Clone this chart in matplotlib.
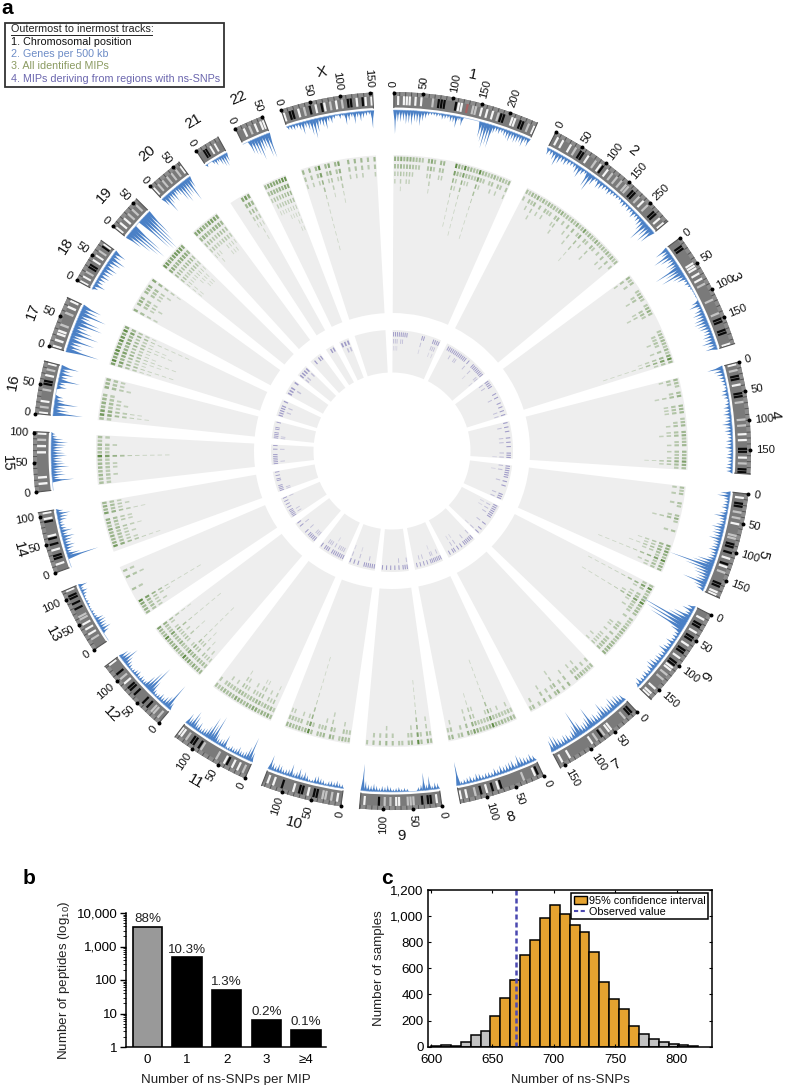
import numpy as np
import matplotlib
matplotlib.use("Agg")
import matplotlib.pyplot as plt
from matplotlib.lines import Line2D
from matplotlib.patches import Patch, Rectangle

plt.rcParams['font.family'] = ['Liberation Sans', 'DejaVu Sans']
plt.rcParams['mathtext.default'] = 'regular'

W, H = 788, 1085

# chromosome layout (degrees clockwise from the top)
chrom_names = ['1', '2', '3', '4', '5', '6', '7', '8', '9', '10', '11', '12', '13', '14',
               '15', '16', '17', '18', '19', '20', '21', '22', 'X']
chrom_len = [249, 243, 198, 191, 181, 171, 159, 146, 141, 135, 135, 133, 115, 107,
             102, 90, 81, 78, 59, 63, 48, 51, 155]
chrom_start = [0.3, 27.2, 53.5, 75.6, 96.9, 117.2, 136.8, 155.0, 172.0, 188.2, 204.2, 220.6,
               236.3, 250.1, 263.4, 276.0, 287.0, 298.4, 308.8, 317.6, 326.9, 334.1, 342.0]
chrom_end = [23.9, 50.2, 72.6, 93.7, 114.2, 133.8, 152.0, 169.0, 185.2, 201.3, 217.2, 233.1,
             246.9, 260.1, 273.1, 284.5, 295.3, 305.9, 314.6, 323.6, 331.0, 338.9, 356.9]
tick_mb = [[0, 50, 100, 150, 200], [0, 50, 100, 150, 200], [0, 50, 100, 150], [0, 50, 100, 150],
           [0, 50, 100, 150], [0, 50, 100, 150], [0, 50, 100, 150], [0, 50, 100], [0, 50, 100],
           [0, 50, 100], [0, 50, 100], [0, 50, 100], [0, 50, 100], [0, 50, 100], [0, 50, 100],
           [0, 50], [0, 50], [0, 50], [0, 50], [0, 50], [0], [0, 50], [0, 50, 100, 150]]
tick_text = [['0', '50', '100', '150', '200'], ['0', '50', '100', '150', '250']] + [None] * 21

# cytobands, one character per equal slice of the chromosome
bands = [
    ".w.www.w.w...l.kkk...kww.r.ll.w.w.w.lkk..ww.kk.l.w",
    ".w.w..w.l.kk.w..l.wk.w.l.l.l.ll.kk.l.w.l..kk.w.w",
    "..kk.....www.w.w.l.....l....l.kk..kk...w",
    "w.l.kk.w..kk.l.....l.l..w.w..kk.w.l.kk",
    ".w.kk.l.l.w...ll.kk.k.w.kw.l...kk.ww",
    "..w.kk.w.kk.w.kk.w.kkww.l.l...w.ww",
    ".kk.l.....ww.lk.l.w........w..w.",
    ".kw...l.......kw.k.w.k.l..w.w",
    ".w.kk.k..lll..ww.l.l.k....w.",
    ".w.l.ll.kk.w.kk.w...k..w.w.",
    ".l.w.w.kw..l.....lk.kk.l.ww",
    ".l.ll.k.k...k.kk.w.l.k...w",
    "...l.w.w.w.ll..k.k.kk.w",
    "..w.kk.w.k.kw....kw.w",
    "..w.w.......w.w.l.w",
    "w.l.w...l.kk.w.l.w",
    "w.w.ww.l...l.w.w",
    "w.w.l.kk.w.w.l.kw",
    "w.w.w.l.l.l.",
    "w.l.l.l.l.l.w",
    "..kk.w.w..",
    "..w.l.w.ww",
    "w.kk.w.l.k.w.kw.l.w.l.kk.w.kw.w",
]
band_colors = {'w': '#f4f4f4', 'l': '#c4c4c4', 'k': '#0a0a0a', 'r': '#a86060', 's': '#a0a0a0'}

# genes per 500 kb, spike heights along each chromosome
genes = [
    [24, 12, 12, 11, 14, 13, 15, 11, 12, 15, 10, 7, 4, 3, 3, 4, 3, 6, 5, 4, 7, 7, 12, 4, 9, 0, 0, 0, 0, 0,
     0, 16, 20, 26, 22, 24, 8, 6, 7, 5, 7, 9, 11, 8, 10, 9, 8, 11, 6, 9],
    [7, 6, 9, 14, 10, 7, 8, 6, 5, 5, 9, 12, 7, 4, 16, 19, 10, 4, 9, 8, 6, 5, 7, 5, 4, 4, 3, 5, 6, 4, 6, 5,
     8, 5, 7, 9, 12, 22, 14, 18, 16],
    [14, 9, 20, 14, 8, 12, 10, 28, 18, 24, 13, 10, 4, 5, 3, 2, 1, 1, 1, 0, 8, 12, 5, 9, 12, 10, 13, 14, 12,
     11, 8, 9, 11, 10, 14, 9, 12],
    [16, 10, 8, 6, 5, 4, 3, 6, 7, 5, 3, 5, 7, 6, 8, 6, 7, 10, 7, 8, 6, 5, 7, 6, 8, 5, 6, 7, 5, 6, 7, 6],
    [10, 13, 6, 5, 6, 7, 4, 8, 13, 7, 6, 9, 13, 10, 11, 9, 13, 8, 7, 8, 10, 7, 7, 9, 18, 22, 46, 28, 18, 16,
     12, 13, 25, 12, 8],
    [8, 12, 7, 18, 22, 52, 44, 38, 12, 6, 6, 5, 9, 6, 8, 11, 6, 7, 8, 7, 10, 11, 8, 5, 7, 6, 5, 8, 5],
    [8, 10, 12, 11, 14, 10, 9, 12, 17, 10, 8, 11, 10, 22, 13, 10, 9, 15, 28, 14, 10, 6, 9, 10, 8, 10, 14,
     16, 12],
    [6, 9, 7, 8, 10, 13, 6, 10, 9, 8, 7, 9, 6, 8, 5, 6, 6, 5, 7, 8, 5, 7, 6, 5, 4, 24],
    [6, 7, 4, 14, 6, 18, 6, 4, 0, 0, 0, 3, 4, 3, 5, 4, 3, 5, 7, 5, 6, 4, 6, 8, 6, 7, 10, 27],
    [4, 5, 7, 5, 6, 5, 3, 5, 6, 8, 7, 3, 3, 6, 9, 6, 11, 7, 5, 13, 7, 6, 5, 8, 9, 6, 8, 15],
    [10, 25, 14, 8, 6, 6, 9, 6, 5, 6, 4, 3, 14, 8, 7, 6, 11, 28, 18, 24, 13, 8, 7, 5, 10, 7, 14, 18, 9, 12],
    [8, 28, 12, 9, 6, 8, 5, 4, 6, 14, 30, 22, 14, 5, 5, 6, 4, 7, 6, 4, 3, 5, 7, 10, 18, 12, 10],
    [0, 0, 0, 7, 11, 8, 9, 10, 9, 4, 3, 3, 2, 2, 3, 3, 2, 3, 5, 7, 4, 9],
    [0, 0, 0, 32, 14, 6, 9, 11, 8, 10, 13, 7, 12, 7, 6, 5, 9, 11, 14, 7],
    [0, 0, 0, 22, 8, 14, 12, 11, 18, 14, 12, 11, 16, 14, 11, 13, 15, 17, 12, 6, 4],
    [30, 16, 12, 24, 10, 8, 0, 0, 10, 8, 22, 9, 14, 10, 18],
    [34, 16, 14, 26, 12, 28, 20, 14, 28, 24, 13, 28, 18, 20],
    [6, 12, 8, 9, 11, 10, 12, 14, 9, 14, 17, 10, 13],
    [18, 28, 36, 42, 34, 0, 0, 40, 44, 46, 38, 30],
    [10, 20, 12, 10, 13, 8, 10, 18, 22, 18, 17, 26, 12],
    [3, 0, 0, 4, 7, 5, 9, 12, 13, 9],
    [0, 0, 14, 16, 18, 24, 16, 14, 24, 26],
    [4, 5, 6, 5, 8, 13, 7, 10, 16, 20, 14, 8, 10, 13, 6, 8, 4, 2, 5, 3, 12, 8, 5, 12, 6, 10, 7, 5, 4, 18],
]

# stacked MIP rows per slice of each chromosome (base 36 digits)
mip_depth = [
    "43534432210352033000942a3322a3212313213",
    "2132413132213412131412613214212131312",
    "3120012310134200000122321315a3",
    "3210240033301230341230323642",
    "212002100241002000054642a243",
    "2a3134a3232021123313133434",
    "212132300302042020301021",
    "2322323a32224614021032",
    "240290320110203020201",
    "2231024032202b3132233",
    "25342553423452323212",
    "3435264a3236343a3236",
    "3435a00020003020",
    "074343524406343",
    "2232332a22312",
    "27634320433",
    "6957965875a5",
    "40343033405",
    "775567775",
    "565446665",
    "000575",
    "35556688",
    "30303c03503600303030203",
]
inner_depth = [
    "3331221100000003100003231",
    "0111211221111020013111123",
    "2121000102001010202",
    "10201002020100213",
    "2131110201000212",
    "1313121000200103",
    "2111210103031010",
    "1211231010202010",
    "2110201010101",
    "1112110030103",
    "1222213022201",
    "2221102000201",
    "1212101010102",
    "221100110101",
    "12111100201",
    "2211011001",
    "1121201",
    "11201",
    "2212",
    "01011",
    "011",
    "122",
    "0000000000000",
]

# panel b
b_labels = ['0', '1', '2', '3', '≥4']
b_values = [3880, 480, 51, 6.4, 3.2]
b_percent = ['88%', '10.3%', '1.3%', '0.2%', '0.1%']

# panel c
c_left = [600.0 + 8.06 * i for i in range(27)]
c_counts = [3, 12, 8, 35, 88, 122, 236, 372, 510, 703, 820, 982, 1082, 1020, 930, 875, 727, 492,
            362, 288, 155, 98, 58, 33, 20, 10, 4]
observed = 669


def theta_at(c, frac):
    return np.radians(chrom_start[c] + frac * (chrom_end[c] - chrom_start[c]))


def band_r(ax, t1, t2, r1, r2, **kw):
    ax.bar((t1 + t2) / 2, r2 - r1, width=t2 - t1, bottom=r1, linewidth=0, align='center', **kw)


fig = plt.figure(figsize=(W / 100, H / 100), dpi=100)

# panel a, one polar axes around the picture's centre
cx, cy, rmax = 392, 451, 410
ax = fig.add_axes([(cx - rmax) / W, 1 - (cy + rmax) / H, 2 * rmax / W, 2 * rmax / H], projection='polar')
ax.set_theta_zero_location('N')
ax.set_theta_direction(-1)
ax.set_rlim(0, rmax)
ax.set_axis_off()

green = '#4f8032'
purple = '#5f57a8'
for c in range(23):
    t1, t2 = theta_at(c, 0), theta_at(c, 1)
    band_r(ax, t1, t2, 138, 296, color='#eeeeee')
    band_r(ax, t1, t2, 78.5, 121, color='#eeeeee')

    # ideogram
    band_r(ax, t1, t2, 343.5, 359, color='#7a7a7a')
    band_r(ax, t1, t2, 355, 359, color='#8c8c8c')
    s = bands[c]
    for i, ch in enumerate(s):
        if ch in band_colors:
            a, b = theta_at(c, (i + 0.12) / len(s)), theta_at(c, (i + 0.88) / len(s))
            band_r(ax, a, b, 346, 355, color=band_colors[ch])
    band_t = theta_at(c, np.arange(0, chrom_len[c] + 1, 10) / chrom_len[c])
    ax.vlines(band_t, 355, 359, color='#555555', lw=0.7)
    ax.plot(np.full(2, t1), [343.5, 359], color='#555555', lw=0.8)
    ax.plot(np.full(2, t2), [343.5, 359], color='#555555', lw=0.8)

    # gene track, concave spikes pointing at the centre
    g = genes[c]
    w = (t2 - t1) / len(g)
    for i, h in enumerate(g):
        if h > 0:
            t = t1 + (i + 0.5) * w
            ax.fill([t - 0.7 * w, t - 0.2 * w, t, t + 0.2 * w, t + 0.7 * w],
                    [341, 341 - 0.45 * h, 341 - h, 341 - 0.45 * h, 341], color='#4a80c6', lw=0)
    ax.plot(np.linspace(t1, t2, 20), np.full(20, 341), color='#8fb2df', lw=0.4)

    # MIPs
    s = mip_depth[c]
    w = (t2 - t1) / len(s)
    for i, ch in enumerate(s):
        d = int(ch, 36)
        for k in range(d):
            a = min(1, 0.3 + 0.08 * d) * max(0.22, 0.9 * 0.78 ** k)
            ww = w * (0.65 if k < 2 else 0.5 if k < 4 else 0.3)
            t = t1 + (i + 0.5) * w
            ax.bar(t, 4.5, width=ww, bottom=290 - 7.5 * k, color=green, alpha=a, linewidth=0)
    s = inner_depth[c]
    w = (t2 - t1) / len(s)
    for i, ch in enumerate(s):
        d = int(ch, 36)
        for k in range(d):
            t = t1 + (i + 0.5) * w
            ax.bar(t, 4.5, width=w * 0.5, bottom=114.5 - 7 * k, color=purple,
                   alpha=0.55 * 0.55 ** k, linewidth=0)

    # tick dots and labels
    ticks = np.array(tick_mb[c])
    t = theta_at(c, ticks / chrom_len[c])
    ax.scatter(t, np.full(len(t), 358.5), s=8, color='black', zorder=5, linewidths=0, clip_on=False)
    names = tick_text[c] if tick_text[c] else [str(v) for v in tick_mb[c]]
    for th, label in zip(t, names):
        deg = np.degrees(th)
        right = deg < 180
        ax.text(th, 364, label, fontsize=8.2, color='#111111', va='center', ha='left' if right else 'right',
                rotation=(90 - deg) if right else (270 - deg), rotation_mode='anchor')

    # chromosome name
    mid = np.degrees((t1 + t2) / 2)
    if mid <= 130:
        rot = -mid
    elif mid <= 270:
        rot = 180 - mid
    else:
        rot = 360 - mid
    ax.text(np.radians(mid), 385, chrom_names[c], fontsize=10.8, color='#111111', ha='center', va='center',
            rotation=rot, rotation_mode='anchor')

# overlay in picture pixels for the key and the panel letters
over = fig.add_axes([0, 0, 1, 1])
over.set_xlim(0, W)
over.set_ylim(H, 0)
over.set_axis_off()
over.patch.set_alpha(0)
over.add_patch(Rectangle((5.5, 23), 219, 63.5, fill=False, edgecolor='#333333', lw=1.3))
key_lines = ['Outermost to inermost tracks:', '1. Chromosomal position', '2. Genes per 500 kb',
             '3. All identified MIPs', '4. MIPs deriving from regions with ns-SNPs']
key_colors = ['#222222', '#111111', '#6d8cc6', '#8b9b62', '#6b66ae']
for i, (line, col) in enumerate(zip(key_lines, key_colors)):
    over.text(11, 29.5 + 12.3 * i, line, fontsize=7.75, color=col, va='center', ha='left')
over.plot([11, 152], [35, 35], color='#222222', lw=0.7)
over.text(1, 9, 'a', fontsize=15, fontweight='bold', va='center', ha='left')
over.text(23, 878, 'b', fontsize=15, fontweight='bold', va='center', ha='left')
over.text(381, 878, 'c', fontsize=15, fontweight='bold', va='center', ha='left')

# panel b
axb = fig.add_axes([126 / W, 1 - 1047 / H, 200 / W, 134 / H])
axb.bar(range(5), b_values, width=0.74, color=['#999999', 'black', 'black', 'black', 'black'],
        edgecolor='black', linewidth=1.2)
axb.set_yscale('log')
axb.set_ylim(1, 10000)
axb.set_xlim(-0.54, 4.5)
axb.set_xticks(range(5))
axb.set_xticklabels(b_labels)
axb.set_yticks([1, 10, 100, 1000, 10000])
axb.set_yticklabels(['1', '10', '100', '1,000', '10,000'])
axb.tick_params(axis='x', length=0, labelsize=9.6, pad=5)
axb.tick_params(axis='y', which='major', length=4, width=1, labelsize=9.6, direction='out', pad=2)
axb.tick_params(axis='y', which='minor', length=2, width=0.6, direction='out')
for name in ['top', 'right']:
    axb.spines[name].set_visible(False)
for name in ['left', 'bottom']:
    axb.spines[name].set_linewidth(1.1)
for i, (v, p) in enumerate(zip(b_values, b_percent)):
    axb.text(i, v * 1.12, p, ha='center', va='bottom', fontsize=9.6, color='#222222')
axb.set_xlabel('Number of ns-SNPs per MIP', fontsize=9.6, labelpad=6, color='#222222')
axb.set_ylabel('Number of peptides (log$_{10}$)', fontsize=9.6, labelpad=3.5, color='#222222')

# panel c
axc = fig.add_axes([427.7 / W, 1 - 1046.7 / H, 284.6 / W, 156.7 / H])
c_colors = ['#e5a330' if 648 <= x < 769 else '#c2c2c2' for x in c_left]
axc.bar(c_left, c_counts, width=8.06, align='edge', color=c_colors, edgecolor='black', linewidth=1.1)
axc.axvline(observed, color='#4a48b0', lw=1.8, ls=(0, (2, 1.2)))
axc.set_xlim(597.3, 829)
axc.set_ylim(0, 1200)
axc.set_xticks([600, 650, 700, 750, 800])
axc.set_yticks([0, 200, 400, 600, 800, 1000, 1200])
axc.set_yticklabels(['0', '200', '400', '600', '800', '1,000', '1,200'])
axc.tick_params(axis='both', direction='in', length=2.5, width=0.8, labelsize=9.6, top=True, right=True)
axc.tick_params(axis='x', pad=5)
axc.tick_params(axis='y', pad=3)
for sp in axc.spines.values():
    sp.set_linewidth(1.1)
axc.set_xlabel('Number of ns-SNPs', fontsize=9.6, labelpad=6, color='#222222')
axc.set_ylabel('Number of samples', fontsize=9.6, labelpad=4, color='#222222')
leg = axc.legend(handles=[Patch(facecolor='#e5a330', edgecolor='black', label='95% confidence interval'),
                          Line2D([0], [0], color='#4a48b0', lw=1.5, ls=(0, (2, 1.2)), label='Observed value')],
                 loc='upper right', fontsize=7.8, frameon=True, fancybox=False, framealpha=1, edgecolor='black',
                 borderpad=0.2, labelspacing=0.1, handlelength=1.2, handletextpad=0.25, borderaxespad=0.25,
                 bbox_to_anchor=(0.995, 0.995))
leg.get_frame().set_linewidth(1.1)

fig.savefig('out.png', dpi=100)
